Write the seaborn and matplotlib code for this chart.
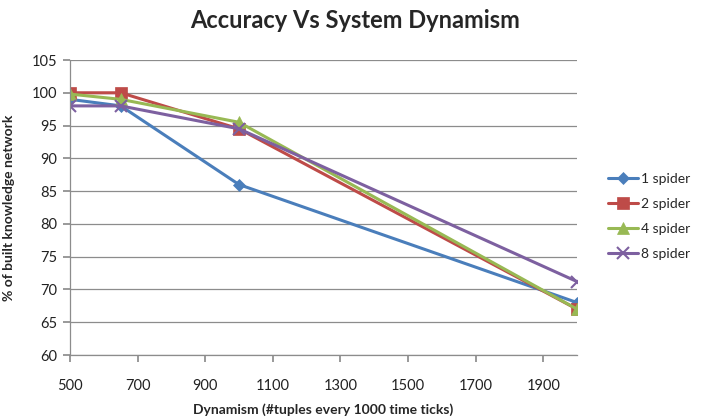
import matplotlib
matplotlib.use("Agg")
import matplotlib.pyplot as plt
import seaborn as sns
import pandas as pd

dynamism = [500, 650, 1000, 2000]
spider1 = [99, 98, 86, 68]
spider2 = [100, 100, 94.5, 67]
spider4 = [99.8, 99, 95.5, 67]
spider8 = [98, 98, 94.5, 71.2]
series_names = ["1 spider", "2 spider", "4 spider", "8 spider"]
x_ticks = [500, 700, 900, 1100, 1300, 1500, 1700, 1900]
y_ticks = [60, 65, 70, 75, 80, 85, 90, 95, 100, 105]

rows = []
for name, vals in zip(series_names, [spider1, spider2, spider4, spider8]):
    for x, v in zip(dynamism, vals):
        rows.append({"Dynamism": x, "value": v, "series": name})
df = pd.DataFrame(rows)

sns.set_theme(style="white")
plt.rcParams['font.family'] = ['Lato', 'DejaVu Sans']

fig = plt.figure(figsize=(7.04, 4.18), dpi=100)
ax = fig.add_axes([70/704, 1-355/418, (577-70)/704, (355-60)/418])

palette = {"1 spider": "#4A7EBB", "2 spider": "#BE4B48", "4 spider": "#98B954", "8 spider": "#7D60A0"}
markers = {"1 spider": "D", "2 spider": "s", "4 spider": "^", "8 spider": "x"}
sizes = {"1 spider": 6, "2 spider": 8, "4 spider": 8, "8 spider": 9}
for name in series_names:
    sub = df[df.series == name]
    sns.lineplot(data=sub, x="Dynamism", y="value", ax=ax, color=palette[name],
                 marker=markers[name], markersize=sizes[name], linewidth=2.2,
                 markeredgecolor=palette[name], markeredgewidth=1.5 if name == "8 spider" else 0.5,
                 label=name)

ax.set_xlim(500, 2000)
ax.set_ylim(60, 105)
ax.set_xticks(x_ticks)
ax.set_yticks(y_ticks)
ax.yaxis.grid(True, color="#8c8c8c", linewidth=0.9)
ax.xaxis.grid(False)
for s in ["top", "right"]:
    ax.spines[s].set_visible(False)
for s in ["left", "bottom"]:
    ax.spines[s].set_color("#8c8c8c")
    ax.spines[s].set_linewidth(0.9)
ax.tick_params(axis="both", which="major", direction="out", length=5, color="#8c8c8c",
               labelsize=10.5, labelcolor="#222222", pad=4)
ax.tick_params(axis="x", pad=12)
ax.tick_params(left=True, bottom=True)

ax.set_xlabel("Dynamism (#tuples every 1000 time ticks)", fontsize=10, fontweight="bold", labelpad=8)
ax.set_ylabel("% of built knowledge network", fontsize=10, fontweight="bold", labelpad=12)
fig.suptitle("Accuracy Vs System Dynamism", x=355/704, y=1-20/418, va="center",
             fontsize=17, fontweight="bold")

leg = ax.legend(loc="center left", bbox_to_anchor=(1.05, 0.47), frameon=False,
                fontsize=10, handlelength=2.2, labelspacing=0.95, handletextpad=0.2,
                borderaxespad=0.0)

fig.savefig("out.png", dpi=100)
